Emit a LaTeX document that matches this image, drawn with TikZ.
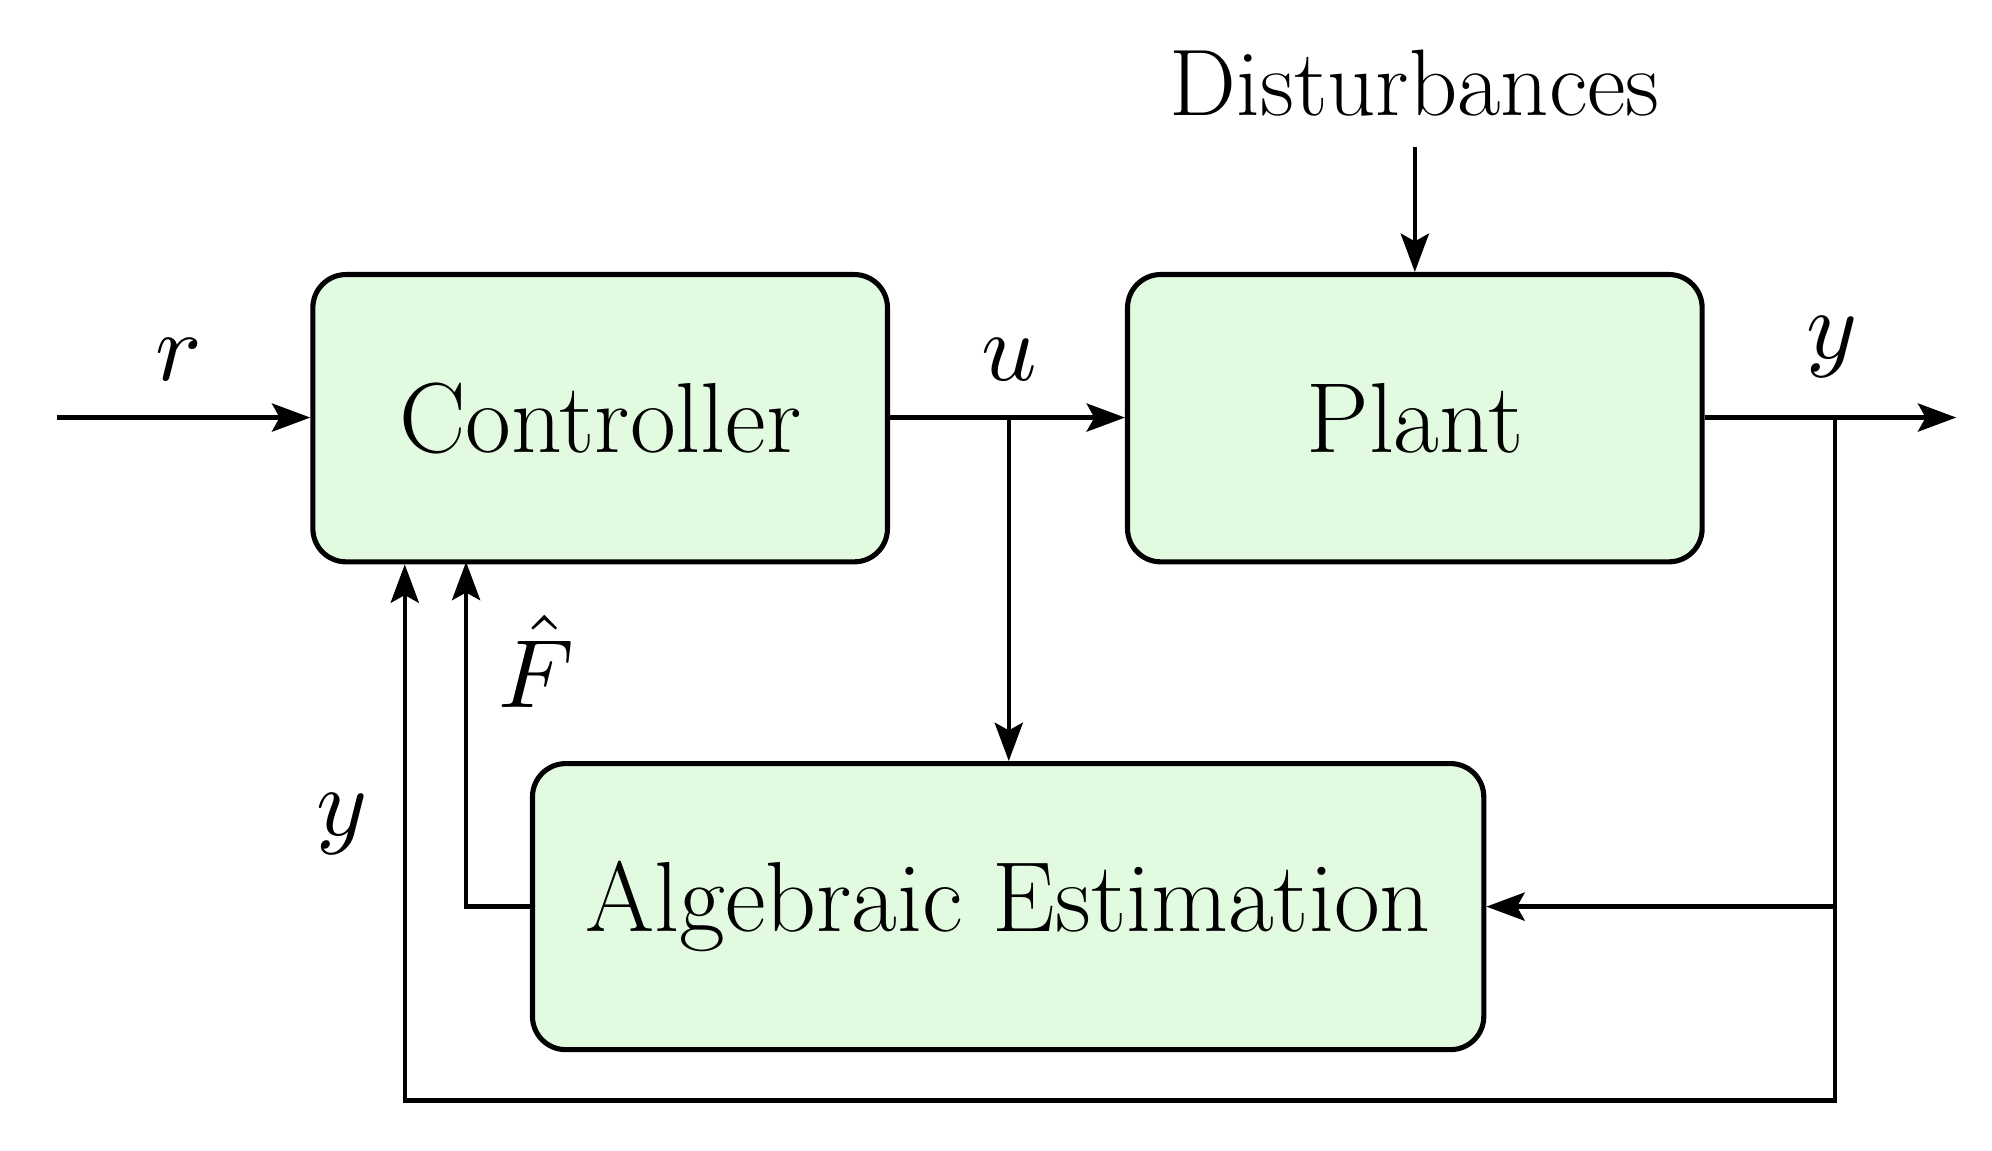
\documentclass[tikz,border=0pt]{standalone}
\usetikzlibrary{arrows.meta}
\definecolor{boxg}{HTML}{E2FBE0}
\begin{document}
\begin{tikzpicture}[x=1pt,y=-1pt,
  blk/.style={draw,line width=4pt,fill=boxg,rounded corners=26pt,inner sep=0pt},
  ln/.style={line width=3.5pt},
  ar/.style={ln,-{Stealth[length=30pt,width=22pt,inset=6pt]}},
  txt/.style={font=\fontsize{78}{94}\selectfont},
  mth/.style={font=\normalsize,scale=7.6}]
\useasboundingbox (0,0) rectangle (1560,901);
\node[blk,minimum width=450pt,minimum height=225pt] (ctrl) at (470,327.5) {};
\node[txt] at (ctrl) {Controller};
\node[blk,minimum width=450pt,minimum height=225pt] (plant) at (1108,327.5) {};
\node[txt] at (plant) {Plant};
\node[blk,minimum width=745pt,minimum height=224pt] (est) at (789.5,710) {};
\node[txt] at (est) {Algebraic Estimation};
\node[txt,font=\fontsize{74}{90}\selectfont] (dist) at (1108,65) {Disturbances};
\coordinate (in) at (45,327);
\coordinate (out) at (1532,327);
\coordinate (ub) at (790,327);
\coordinate (yb) at (1437,327);
\coordinate (yd) at (1437,862);
\coordinate (yl) at (317,862);
\draw[ar] (in) -- (ctrl.west |- in);
\draw[ar] (ctrl.east |- ub) -- (plant.west |- ub);
\draw[ar] (plant.east |- yb) -- (out);
\draw[ar] (1108,115) -- (plant.north);
\draw[ar] (ub) -- (ub |- est.north);
\draw[ar] (yb) -- (yd) -- (yl) -- (yl |- ctrl.south);
\draw[ar] (yb |- est.east) -- (est.east);
\draw[ar] (est.west) -- (365,710) -- (365,440);
\node[mth] at (140,282) {$r$};
\node[mth] at (790,282) {$u$};
\node[mth] at (1435,272) {$y$};
\node[mth] at (268,645) {$y$};
\node[mth] at (420,518) {$\hat F$};
\end{tikzpicture}
\end{document}
